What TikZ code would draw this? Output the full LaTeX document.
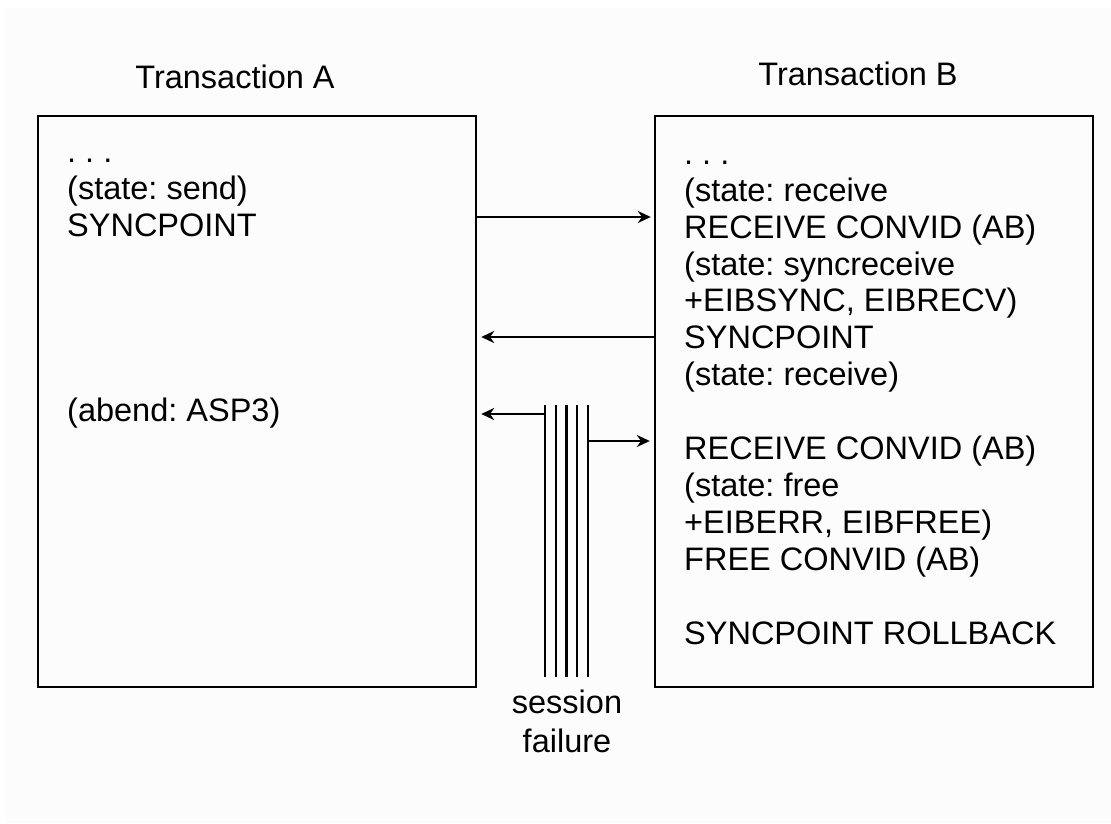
\documentclass[tikz,border=0pt]{standalone}
\usepackage{fontspec}
\setmainfont{Liberation Sans}
\usetikzlibrary{arrows.meta}
\definecolor{paper}{RGB}{252,252,252}
\frenchspacing

\begin{document}
\begin{tikzpicture}[x=1pt,y=-1pt,>={Stealth[length=13pt,width=12pt]}]
\tikzstyle{every node}=[font=\fontsize{32.5}{36.9}\selectfont, inner sep=0pt]
\tikzstyle{box}=[draw, line width=2.4pt, minimum width=438pt, minimum height=571pt]
\tikzstyle{msg}=[->, line width=2.2pt]
\tikzstyle{lines}=[align=left, anchor=base west]
    \useasboundingbox (0,0) rectangle (1111,823);
    \fill[paper] (5,8) rectangle (1111,823);

    % the two transactions
    \node[anchor=base] (titleA) at (235,88) {Transaction A};
    \node[anchor=base] (titleB) at (858,85) {Transaction B};
    \node[box] (boxA) at (257,401.5) {};
    \node[box] (boxB) at (874,401.5) {};

    % base of a multi-line node is its last line
    \node[lines] (textA) at (67,421) {. . .\\(state: send)\\SYNCPOINT\\[147.6pt](abend: ASP3)};
    \node[lines] (textB) at (684,644) {. . .\\(state: receive\\RECEIVE CONVID (AB)\\(state: syncreceive\\+EIBSYNC, EIBRECV)\\SYNCPOINT\\(state: receive)\\[36.9pt]RECEIVE CONVID (AB)\\(state: free\\+EIBERR, EIBFREE)\\FREE CONVID (AB)\\[36.9pt]SYNCPOINT ROLLBACK};

    % flows between A and B
    \draw[msg] (boxA.east |- 0,217) -- ([xshift=-3pt]boxB.west |- 0,217);
    \draw[msg] (boxB.west |- 0,337) -- ([xshift=4pt]boxA.east |- 0,337);

    % session failure
    \coordinate (failtop) at (545,405);
    \foreach \i in {0,...,4}
        \draw[line width=2.2pt] ([xshift=\i*10.75pt]failtop) -- ++(0,272);
    \node[align=center, font=\fontsize{32.5}{39}\selectfont, anchor=base] (fail) at (567,752) {session\\failure};
    \draw[msg] (545,414) -- ([xshift=4pt]boxA.east |- 0,414);
    \draw[msg] (588,441) -- ([xshift=-4pt]boxB.west |- 0,441);
\end{tikzpicture}
\end{document}
